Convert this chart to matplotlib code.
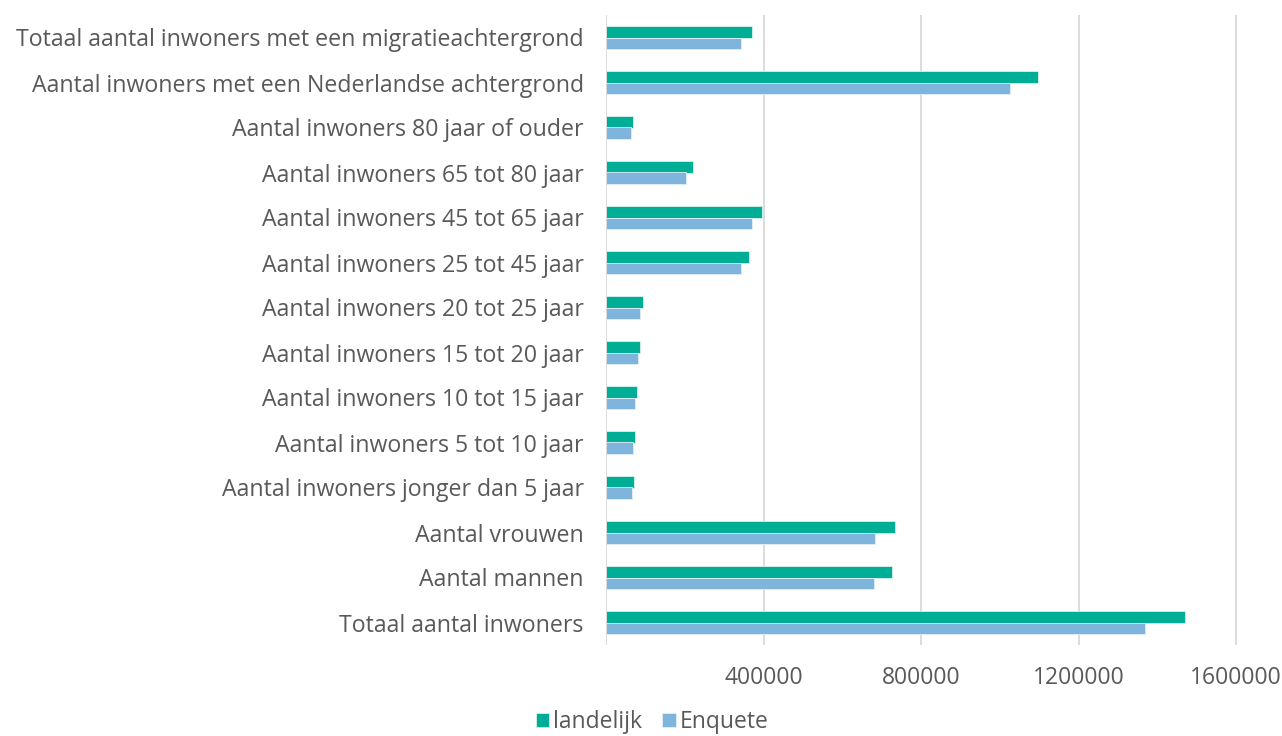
import numpy as np
import matplotlib.pyplot as plt

plt.rcParams['font.family'] = ['Open Sans', 'DejaVu Sans']

categories = [
    "Totaal aantal inwoners",
    "Aantal mannen",
    "Aantal vrouwen",
    "Aantal inwoners jonger dan 5 jaar",
    "Aantal inwoners 5 tot 10 jaar",
    "Aantal inwoners 10 tot 15 jaar",
    "Aantal inwoners 15 tot 20 jaar",
    "Aantal inwoners 20 tot 25 jaar",
    "Aantal inwoners 25 tot 45 jaar",
    "Aantal inwoners 45 tot 65 jaar",
    "Aantal inwoners 65 tot 80 jaar",
    "Aantal inwoners 80 jaar of ouder",
    "Aantal inwoners met een Nederlandse achtergrond",
    "Totaal aantal inwoners met een migratieachtergrond",
]
landelijk = [1470000, 726000, 734000, 71000, 74000, 79000, 86000, 94000,
             364000, 397000, 222000, 69000, 1098000, 370000]
enquete = [1370000, 680000, 683000, 65000, 68000, 73000, 80000, 87000,
           344000, 372000, 204000, 64000, 1025000, 343000]
ticks = [400000, 800000, 1200000, 1600000]

green = "#00AE95"
blue = "#7FB5DC"
txt = "#595959"

fig = plt.figure(figsize=(12.82, 7.36), dpi=100)
ax = fig.add_axes([606 / 1282, 91 / 736, (1282 - 606) / 1282, (721 - 91) / 736])

y = np.arange(len(categories))
h = 0.265
ax.barh(y + h / 2, landelijk, height=h, color=green, edgecolor="#d8f2ee", linewidth=0.6, label="landelijk")
ax.barh(y - h / 2, enquete, height=h, color=blue, edgecolor="#e3eef8", linewidth=0.6, label="Enquete")

ax.set_ylim(-0.5, len(categories) - 0.5)
ax.set_xlim(0, 400000 * 676 / 157.5)
ax.set_yticks(y)
ax.set_yticklabels(categories, fontsize=16.7, color=txt)
ax.set_xticks(ticks)
ax.set_xticklabels([str(t) for t in ticks], fontsize=16.5, color=txt)
ax.tick_params(length=0, pad=15, axis="x")
ax.tick_params(length=0, pad=16, axis="y")
ax.xaxis.grid(True, color="#d9d9d9", linewidth=1.3)
ax.axvline(0, color="#d9d9d9", linewidth=1.3)
ax.set_axisbelow(True)
for s in ax.spines.values():
    s.set_visible(False)

fig.legend(loc="center", bbox_to_anchor=(652 / 1282, 1 - 722 / 736), ncol=2, frameon=False,
           fontsize=16.5, labelcolor=txt, handlelength=0.6, handleheight=0.6,
           handletextpad=0.15, columnspacing=0.9)

fig.savefig("out.png", dpi=100)
